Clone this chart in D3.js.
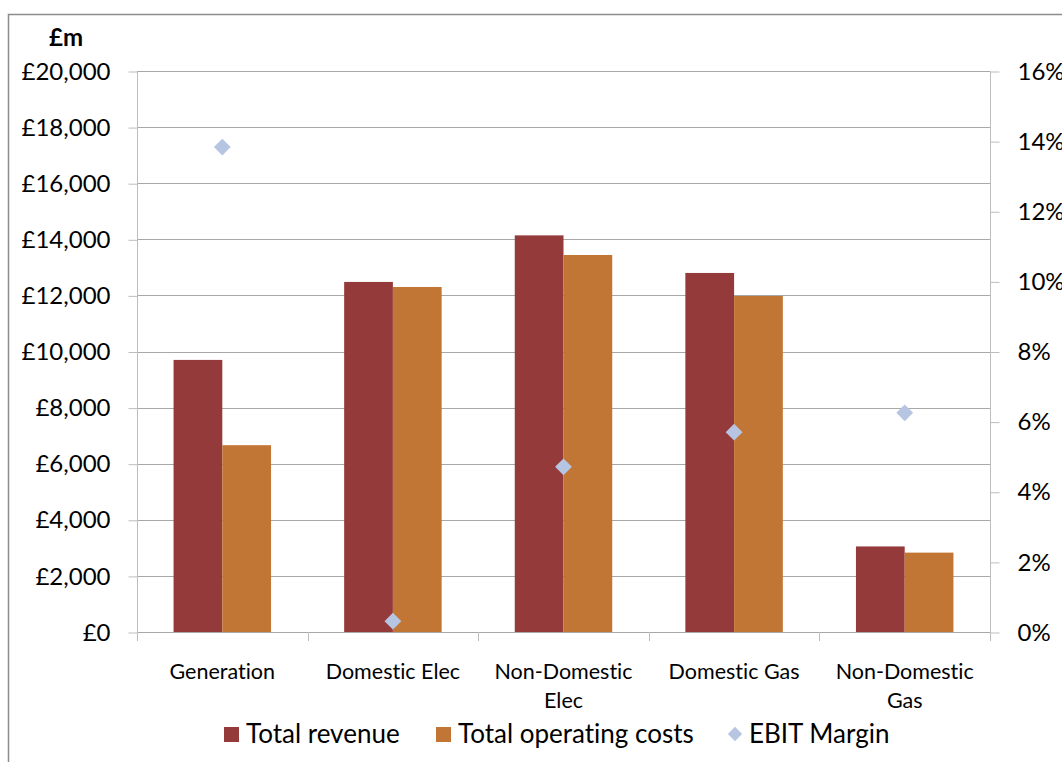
<!DOCTYPE html>
<html>
<head>
<meta charset="utf-8">
<script src="https://cdn.jsdelivr.net/npm/d3@7"></script>
<style>
  body { margin: 0; background: #fff; }
  text { font-family: Lato, "Open Sans", sans-serif; fill: #000; font-variant-ligatures: none; }
</style>
</head>
<body>
<div id="chart"></div>
<script>
// data
var categories = ["Generation", "Domestic Elec", "Non-Domestic Elec", "Domestic Gas", "Non-Domestic Gas"];
var categoryLines = [["Generation"], ["Domestic Elec"], ["Non-Domestic", "Elec"], ["Domestic Gas"], ["Non-Domestic", "Gas"]];
var totalRevenue = [9700, 12480, 14140, 12800, 3050];
var totalCosts = [6660, 12300, 13440, 11980, 2830];
var ebitMargin = [13.83, 0.31, 4.71, 5.70, 6.25];
var leftTicks = [0, 2000, 4000, 6000, 8000, 10000, 12000, 14000, 16000, 18000, 20000];
var rightTicks = [0, 2, 4, 6, 8, 10, 12, 14, 16];
var seriesNames = ["Total revenue", "Total operating costs", "EBIT Margin"];

// sizing
var svgWidth = 1062;
var svgHeight = 762;
var plot = { left: 137, right: 990, top: 71, bottom: 632 };

var colors = { rev: "#953a3a", cost: "#c27636", ebit: "#b6c6e2", grid: "#a8a8a8" };

var svg = d3.select("#chart")
  .append("svg")
  .attr("width", svgWidth)
  .attr("height", svgHeight);

svg.append("rect")
  .attr("width", svgWidth).attr("height", svgHeight)
  .attr("fill", "#fff");

// outer chart border (cropped at right/bottom)
svg.append("rect")
  .attr("x", 8.5).attr("y", 14.5)
  .attr("width", 1100).attr("height", 800)
  .attr("fill", "none")
  .attr("stroke", "#8c8c8c")
  .attr("stroke-width", 1.5);

// scales
var x0 = d3.scaleBand()
  .domain(categories)
  .range([plot.left, plot.right]);

var x1 = d3.scaleBand()
  .domain(["rev", "cost"])
  .range([0, x0.bandwidth()])
  .paddingInner(0)
  .paddingOuter(0.75);

var yLeft = d3.scaleLinear()
  .domain([0, 20000])
  .range([plot.bottom, plot.top]);

var yRight = d3.scaleLinear()
  .domain([0, 16])
  .range([plot.bottom, plot.top]);

// gridlines
svg.append("g")
  .selectAll("line")
  .data(leftTicks.slice(1))
  .enter()
  .append("line")
  .attr("x1", plot.left)
  .attr("x2", plot.right)
  .attr("y1", d => Math.round(yLeft(d)) + 0.5)
  .attr("y2", d => Math.round(yLeft(d)) + 0.5)
  .attr("stroke", colors.grid)
  .attr("stroke-width", 1.2);

// left axis
var leftAxis = d3.axisLeft(yLeft)
  .tickValues(leftTicks)
  .tickSize(9)
  .tickPadding(18)
  .tickFormat(d => "£" + d3.format(",")(d));

var gLeft = svg.append("g")
  .attr("transform", `translate(${plot.left + 0.5}, 0.5)`)
  .call(leftAxis);
gLeft.select(".domain").attr("stroke", "#bdbdbd").attr("d", `M0,${plot.top}V${plot.bottom}`);
gLeft.selectAll(".tick line").attr("stroke", "#bdbdbd");
gLeft.selectAll(".tick text")
  .style("font-family", "Lato, sans-serif")
  .style("font-size", "24px")
  .attr("fill", "#000");

// right axis
var rightAxis = d3.axisRight(yRight)
  .tickValues(rightTicks)
  .tickSize(9)
  .tickPadding(18)
  .tickFormat(d => d + "%");

var gRight = svg.append("g")
  .attr("transform", `translate(${plot.right + 0.5}, 0.5)`)
  .call(rightAxis);
gRight.select(".domain").attr("stroke", "#bdbdbd").attr("d", `M0,${plot.top}V${plot.bottom}`);
gRight.selectAll(".tick line").attr("stroke", "#bdbdbd");
gRight.selectAll(".tick text")
  .style("font-family", "Lato, sans-serif")
  .style("font-size", "24px")
  .attr("fill", "#000");

// bottom category axis
var gBottom = svg.append("g");
gBottom.append("line")
  .attr("x1", plot.left).attr("x2", plot.right)
  .attr("y1", plot.bottom + 0.5).attr("y2", plot.bottom + 0.5)
  .attr("stroke", colors.grid).attr("stroke-width", 1.2);
var edges = categories.map(c => x0(c)).concat([plot.right]);
gBottom.selectAll("line.cat-tick")
  .data(edges)
  .enter()
  .append("line")
  .attr("class", "cat-tick")
  .attr("x1", d => Math.round(d) + 0.5)
  .attr("x2", d => Math.round(d) + 0.5)
  .attr("y1", plot.bottom)
  .attr("y2", plot.bottom + 9)
  .attr("stroke", "#bdbdbd");

var catLabels = gBottom.selectAll("text.cat")
  .data(categories)
  .enter()
  .append("text")
  .attr("class", "cat")
  .attr("text-anchor", "middle")
  .style("font-size", "21.5px");
catLabels.each(function(c, i) {
  d3.select(this).selectAll("tspan")
    .data(categoryLines[i])
    .enter()
    .append("tspan")
    .attr("x", x0(c) + x0.bandwidth() / 2)
    .attr("y", (d, j) => 679 + j * 29)
    .text(d => d);
});

// bars
var barData = [];
categories.forEach(function(c, i) {
  barData.push({ cat: c, key: "rev", value: totalRevenue[i] });
  barData.push({ cat: c, key: "cost", value: totalCosts[i] });
});

svg.append("g")
  .selectAll("rect")
  .data(barData)
  .enter()
  .append("rect")
  .attr("x", d => x0(d.cat) + x1(d.key))
  .attr("y", d => yLeft(d.value))
  .attr("width", x1.bandwidth())
  .attr("height", d => plot.bottom - yLeft(d.value))
  .attr("fill", d => colors[d.key]);

// EBIT margin diamonds
var diamond = d3.symbol().type(d3.symbolDiamond2).size(180);
svg.append("g")
  .selectAll("path")
  .data(ebitMargin)
  .enter()
  .append("path")
  .attr("d", diamond)
  .attr("transform", (d, i) => `translate(${x0(categories[i]) + x0.bandwidth() / 2}, ${yRight(d)})`)
  .attr("fill", colors.ebit);

// unit label
svg.append("text")
  .attr("x", 66)
  .attr("y", 46)
  .attr("text-anchor", "middle")
  .style("font-size", "24px")
  .style("font-weight", "bold")
  .text("£m");

// legend
var legendItems = [
  { name: seriesNames[0], x: 224, type: "rect", color: colors.rev },
  { name: seriesNames[1], x: 436, type: "rect", color: colors.cost },
  { name: seriesNames[2], x: 727, type: "diamond", color: colors.ebit }
];
var legend = svg.append("g");
legendItems.forEach(function(item) {
  if (item.type === "rect") {
    legend.append("rect")
      .attr("x", item.x).attr("y", 727)
      .attr("width", 15).attr("height", 15)
      .attr("fill", item.color);
  } else {
    legend.append("path")
      .attr("d", d3.symbol().type(d3.symbolDiamond2).size(130))
      .attr("transform", `translate(${item.x + 8}, 734)`)
      .attr("fill", item.color);
  }
  legend.append("text")
    .attr("x", item.x + 22)
    .attr("y", 743)
    .style("font-size", "26px")
    .text(item.name);
});
</script>
</body>
</html>
